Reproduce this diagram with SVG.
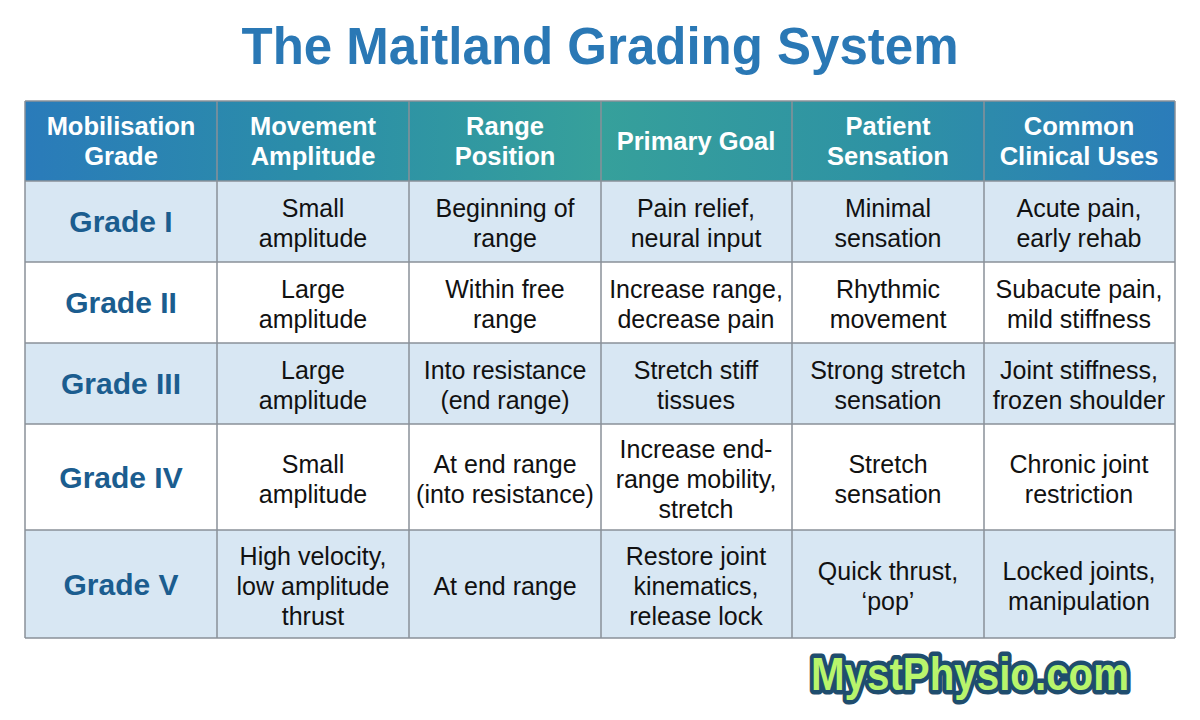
<svg xmlns="http://www.w3.org/2000/svg" width="1200" height="720" viewBox="0 0 1200 720">
<defs>
<linearGradient id="hg" x1="0" x2="1" y1="0" y2="0">
<stop offset="0" stop-color="#2a7bba"/><stop offset="0.25" stop-color="#2b8ea8"/><stop offset="0.5" stop-color="#36a09b"/><stop offset="0.75" stop-color="#2e92a4"/><stop offset="1" stop-color="#2b7cba"/>
</linearGradient>
<style>
text{font-family:"Liberation Sans",Arial,sans-serif;text-anchor:middle}
.h{fill:#fff;font-weight:bold;font-size:25.5px}
.b{fill:#111;font-size:25px}
.g{fill:#1b5d8f;font-weight:bold;font-size:30px}
.ln{stroke:#8a9098;stroke-width:1.5}
</style>
</defs>
<rect width="1200" height="720" fill="#fff"/>
<text x="600" y="64" font-size="51" font-weight="bold" fill="#2a78b5">The Maitland Grading System</text>
<g id="rows">
<rect x="25" y="101" width="1150" height="80" fill="url(#hg)"/>
<rect x="25" y="181" width="1150" height="81" fill="#d8e7f3"/>
<rect x="25" y="262" width="1150" height="81" fill="#fff"/>
<rect x="25" y="343" width="1150" height="81" fill="#d8e7f3"/>
<rect x="25" y="424" width="1150" height="106" fill="#fff"/>
<rect x="25" y="530" width="1150" height="108" fill="#d8e7f3"/>
</g>
<g id="grid" class="ln">
<line x1="25" y1="101" x2="1175" y2="101"/><line x1="25" y1="181" x2="1175" y2="181"/><line x1="25" y1="262" x2="1175" y2="262"/><line x1="25" y1="343" x2="1175" y2="343"/><line x1="25" y1="424" x2="1175" y2="424"/><line x1="25" y1="530" x2="1175" y2="530"/><line x1="25" y1="638" x2="1175" y2="638"/>
<line x1="25" y1="101" x2="25" y2="638"/><line x1="217" y1="101" x2="217" y2="638"/><line x1="409" y1="101" x2="409" y2="638"/><line x1="601" y1="101" x2="601" y2="638"/><line x1="792" y1="101" x2="792" y2="638"/><line x1="984" y1="101" x2="984" y2="638"/><line x1="1175" y1="101" x2="1175" y2="638"/>
</g>
<g id="header" class="h">
<text x="121" y="135">Mobilisation</text><text x="121" y="165">Grade</text>
<text x="313" y="135">Movement</text><text x="313" y="165">Amplitude</text>
<text x="505" y="135">Range</text><text x="505" y="165">Position</text>
<text x="696" y="150">Primary Goal</text>
<text x="888" y="135">Patient</text><text x="888" y="165">Sensation</text>
<text x="1079" y="135">Common</text><text x="1079" y="165">Clinical Uses</text>
</g>
<g id="row1">
<text class="g" x="121" y="232">Grade I</text>
<text class="b" x="313" y="217">Small</text><text class="b" x="313" y="247">amplitude</text>
<text class="b" x="505" y="217">Beginning of</text><text class="b" x="505" y="247">range</text>
<text class="b" x="696" y="217">Pain relief,</text><text class="b" x="696" y="247">neural input</text>
<text class="b" x="888" y="217">Minimal</text><text class="b" x="888" y="247">sensation</text>
<text class="b" x="1079" y="217">Acute pain,</text><text class="b" x="1079" y="247">early rehab</text>
</g>
<g id="row2">
<text class="g" x="121" y="313">Grade II</text>
<text class="b" x="313" y="298">Large</text><text class="b" x="313" y="328">amplitude</text>
<text class="b" x="505" y="298">Within free</text><text class="b" x="505" y="328">range</text>
<text class="b" x="696" y="298">Increase range,</text><text class="b" x="696" y="328">decrease pain</text>
<text class="b" x="888" y="298">Rhythmic</text><text class="b" x="888" y="328">movement</text>
<text class="b" x="1079" y="298">Subacute pain,</text><text class="b" x="1079" y="328">mild stiffness</text>
</g>
<g id="row3">
<text class="g" x="121" y="394">Grade III</text>
<text class="b" x="313" y="379">Large</text><text class="b" x="313" y="409">amplitude</text>
<text class="b" x="505" y="379">Into resistance</text><text class="b" x="505" y="409">(end range)</text>
<text class="b" x="696" y="379">Stretch stiff</text><text class="b" x="696" y="409">tissues</text>
<text class="b" x="888" y="379">Strong stretch</text><text class="b" x="888" y="409">sensation</text>
<text class="b" x="1079" y="379">Joint stiffness,</text><text class="b" x="1079" y="409">frozen shoulder</text>
</g>
<g id="row4">
<text class="g" x="121" y="488">Grade IV</text>
<text class="b" x="313" y="473">Small</text><text class="b" x="313" y="503">amplitude</text>
<text class="b" x="505" y="473">At end range</text><text class="b" x="505" y="503">(into resistance)</text>
<text class="b" x="696" y="458">Increase end-</text><text class="b" x="696" y="488">range mobility,</text><text class="b" x="696" y="518">stretch</text>
<text class="b" x="888" y="473">Stretch</text><text class="b" x="888" y="503">sensation</text>
<text class="b" x="1079" y="473">Chronic joint</text><text class="b" x="1079" y="503">restriction</text>
</g>
<g id="row5">
<text class="g" x="121" y="595">Grade V</text>
<text class="b" x="313" y="565">High velocity,</text><text class="b" x="313" y="595">low amplitude</text><text class="b" x="313" y="625">thrust</text>
<text class="b" x="505" y="595">At end range</text>
<text class="b" x="696" y="565">Restore joint</text><text class="b" x="696" y="595">kinematics,</text><text class="b" x="696" y="625">release lock</text>
<text class="b" x="888" y="580">Quick thrust,</text><text class="b" x="888" y="610">‘pop’</text>
<text class="b" x="1079" y="580">Locked joints,</text><text class="b" x="1079" y="610">manipulation</text>
</g>
<g id="logo">
<text x="970" y="690" font-family="'DejaVu Sans',sans-serif" font-weight="bold" font-size="46" textLength="318" lengthAdjust="spacingAndGlyphs" fill="#b8f56c" stroke="#1f4d6e" stroke-width="9" stroke-linejoin="round" paint-order="stroke">MystPhysio.com</text>
</g>
</svg>
